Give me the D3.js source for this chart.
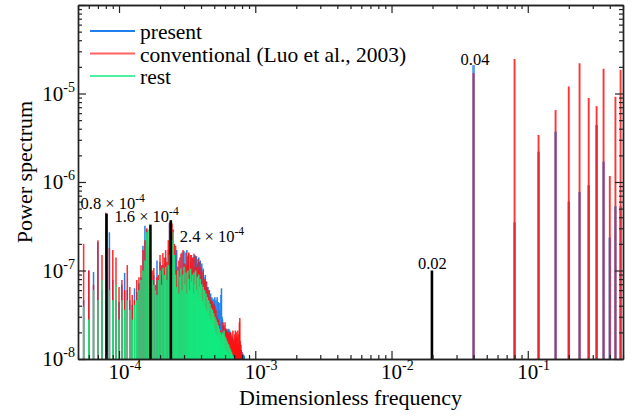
<!DOCTYPE html>
<html><head><meta charset="utf-8">
<script src="https://cdn.jsdelivr.net/npm/d3@7"></script>
<style>
html,body{margin:0;padding:0;background:#fff;}
svg{display:block;}
</style></head><body>
<svg id="chart" width="635" height="419"></svg>
<script>
// ---------------- data ----------------
const xDomain = [5e-5, 0.5];
const yDomain = [1e-8, 1e-4];
const binStart = 5e-5;   // first frequency bin of the low-frequency spectra
const binStep = 5e-6;    // bin spacing

const presentLow = [3.1e-8,4.6e-8,1.0e-7,9.6e-8,2.1e-7,6.0e-8,2.9e-7,2.7e-7,7.8e-8,4.6e-8,
 4.4e-8,6.9e-8,9.4e-8,6.0e-8,4.6e-8,4.1e-8,6.3e-8,5.7e-8,7.2e-8,8.4e-8,
 1.9e-7,3.2e-7,2.9e-7,1.7e-7,1.0e-7,6.9e-8,8.9e-8,6.0e-8,1.3e-7,6.9e-8,
 1.25e-7,8.9e-8,1.15e-7,1.0e-7,1.4e-7,1.07e-7,1.7e-7,3.4e-7,2.2e-7,2.5e-7,
 2.3e-7,1.5e-7,9.0e-8,1.7e-7,1.1e-7,7.5e-8,1.4e-7,9.5e-8,1.6e-7,1.0e-7,
 1.65e-7,1.2e-7,8.0e-8,1.7e-7,1.3e-7,1.55e-7,9.0e-8,1.25e-7,1.5e-7,8.5e-8,
 1.4e-7,1.1e-7,1.5e-7,9.0e-8,1.45e-7,1.2e-7,8.0e-8,1.4e-7,1.05e-7,1.3e-7,
 8.5e-8,1.2e-7,7.0e-8,1.05e-7,8.5e-8,6.0e-8,8.9e-8,5.5e-8,7.5e-8,5.0e-8,
 6.5e-8,4.5e-8,6.0e-8,4.0e-8,5.5e-8,3.8e-8,5.0e-8,3.5e-8,4.8e-8,3.3e-8,
 4.6e-8,5.0e-8,3.0e-8,4.6e-8,2.8e-8,5.0e-8,3.2e-8,4.4e-8,2.6e-8,3.6e-8,
 4.3e-8,2.6e-8,5.3e-8,6.3e-8,3.0e-8,2.8e-8,1.7e-8,2.4e-8,1.5e-8,2.2e-8,
 1.6e-8,2.2e-8,1.5e-8,2.1e-8,2.2e-8,1.5e-8,2.1e-8,1.6e-8,2.2e-8,1.5e-8,
 2.1e-8,1.4e-8,2.0e-8,1.4e-8,1.9e-8,1.3e-8,1.8e-8,1.3e-8,1.7e-8,1.6e-8,
 1.25e-8,1.45e-8,1.6e-8,1.2e-8,1.45e-8,1.15e-8,1.4e-8,1.1e-8,1.34e-8,1.2e-8,
 1.27e-8,1.08e-8,1.27e-8,1.05e-8,1.2e-8,1.12e-8,1.18e-8,1.04e-8,1.27e-8,1.15e-8,
 1.2e-8,1.05e-8,1.15e-8,1.03e-8,1.12e-8,1.02e-8,1.09e-8];

const conventionalLow = [2.1e-8,2.0e-7,1.0e-7,6.9e-8,2.2e-7,1.5e-7,4.5e-7,1.8e-7,1.7e-7,1.4e-7,
 6.5e-8,7.8e-8,6.0e-8,1.15e-7,6.5e-8,5.3e-8,4.6e-8,7.8e-8,8.4e-8,1.15e-7,
 1.7e-7,2.2e-7,3.0e-7,1.9e-7,1.3e-7,1.0e-7,1.07e-7,6.9e-8,8.4e-8,8.9e-8,
 1.5e-7,1.15e-7,1.58e-7,1.4e-7,1.7e-7,1.25e-7,2.2e-7,3.5e-7,2.9e-7,3.4e-7,
 2.9e-7,2.0e-7,1.9e-7,1.0e-7,7.0e-8,1.3e-7,8.0e-8,1.55e-7,1.0e-7,1.7e-7,
 1.2e-7,8.5e-8,1.6e-7,1.15e-7,1.45e-7,1.6e-7,9.0e-8,1.5e-7,7.5e-8,1.4e-7,
 1.0e-7,1.55e-7,8.5e-8,1.45e-7,1.1e-7,7.0e-8,1.35e-7,1.0e-7,1.25e-7,7.5e-8,
 1.1e-7,9.5e-8,6.5e-8,1.0e-7,6.0e-8,8.0e-8,5.5e-8,7.5e-8,5.0e-8,6.5e-8,
 4.5e-8,6.0e-8,3.8e-8,5.0e-8,3.5e-8,4.6e-8,3.2e-8,4.5e-8,3.0e-8,4.2e-8,
 3.4e-8,4.0e-8,2.6e-8,3.6e-8,2.4e-8,3.0e-8,2.2e-8,2.8e-8,1.9e-8,2.5e-8,
 1.6e-8,2.1e-8,1.45e-8,1.9e-8,1.27e-8,1.6e-8,2.6e-8,1.5e-8,2.4e-8,2.1e-8,
 2.6e-8,1.5e-8,2.2e-8,2.0e-8,1.4e-8,2.1e-8,1.9e-8,1.4e-8,2.0e-8,1.9e-8,
 1.3e-8,2.0e-8,1.6e-8,1.8e-8,1.3e-8,1.7e-8,1.45e-8,2.1e-8,1.3e-8,1.5e-8,
 1.6e-8,1.9e-8,1.3e-8,2.1e-8,1.7e-8,2.0e-8,1.3e-8,1.8e-8,1.45e-8,2.1e-8,
 1.3e-8,1.9e-8,1.45e-8,2.6e-8,2.9e-8,1.6e-8,1.27e-8,1.45e-8,1.12e-8,1.2e-8,
 1.06e-8];

const restLow = [1.6e-8,3.9e-8,2.8e-8,6.0e-8,4.6e-8,7.8e-8,1.0e-7,6.0e-8,4.6e-8,6.9e-8,
 2.8e-8,4.6e-8,3.6e-8,4.6e-8,3.6e-8,2.8e-8,4.1e-8,4.6e-8,6.0e-8,7.8e-8,
 1.0e-7,1.3e-7,2.7e-7,2.9e-7,1.15e-7,7.8e-8,6.9e-8,6.0e-8,5.3e-8,7.8e-8,
 1.0e-7,6.9e-8,1.07e-7,8.9e-8,1.1e-7,7.8e-8,1.15e-7,1.5e-7,1.7e-7,2.2e-7,
 2.7e-7,1.5e-7,9.0e-8,6.5e-8,1.0e-7,5.5e-8,8.5e-8,1.05e-7,6.0e-8,9.0e-8,
 1.1e-7,7.0e-8,9.5e-8,5.5e-8,1.0e-7,8.0e-8,6.0e-8,1.05e-7,7.5e-8,9.0e-8,
 5.5e-8,9.5e-8,7.0e-8,1.0e-7,6.0e-8,8.5e-8,5.0e-8,9.0e-8,6.5e-8,8.0e-8,
 5.0e-8,7.0e-8,4.5e-8,6.5e-8,4.0e-8,6.0e-8,3.8e-8,5.5e-8,3.5e-8,5.0e-8,
 3.2e-8,4.6e-8,3.0e-8,4.2e-8,2.8e-8,3.8e-8,2.6e-8,3.6e-8,2.4e-8,3.3e-8,
 2.2e-8,3.0e-8,2.0e-8,2.8e-8,1.9e-8,2.6e-8,1.8e-8,2.4e-8,1.7e-8,2.2e-8,
 1.6e-8,2.0e-8,1.5e-8,1.9e-8,1.4e-8,2.0e-8,1.4e-8,1.9e-8,2.1e-8,1.3e-8,
 1.8e-8,1.25e-8,1.7e-8,1.2e-8,1.6e-8,1.15e-8,1.5e-8,1.1e-8,1.45e-8,1.05e-8,
 1.34e-8,1.05e-8,1.27e-8,1.02e-8,1.2e-8,1.01e-8,1.12e-8,1.01e-8,1.06e-8];

// high-frequency harmonic lines
const harmonicFreq = [0.04,0.08,0.12,0.16,0.20,0.24,0.28,0.32,0.36,0.40,0.44,0.48];
const presentHarm = [2.1e-5,3.5e-7,2.2e-6,3.7e-6,6.0e-7,7.7e-7,9.2e-7,4.4e-6,1.7e-6,2.35e-7,5.3e-7,5.3e-7];
const conventionalHarm = [1.7e-5,2.45e-5,3.4e-6,6.5e-6,1.2e-5,2.2e-5,8.9e-6,7.2e-6,1.9e-5,1.17e-6,9.2e-6,1.85e-5];

// black marker lines and their labels
const markerFreq = [8.1e-5, 1.7e-4, 2.4e-4, 0.0198];
const markerValue = [4.4e-7, 3.3e-7, 3.7e-7, 1.0e-7];
const markerText = ["0.8 × 10", "1.6 × 10", "2.4 × 10", "0.02"];
const markerSup = ["-4", "-4", "-4", ""];
const peakText = "0.04";

const xTickExp = [-4, -3, -2, -1];
const yTickExp = [-8, -7, -6, -5];
const seriesNames = ["present", "conventional (Luo et al., 2003)", "rest"];

// ---------------- layout / style ----------------
const L = 78, T = 5, R = 623, B = 359;
const colors = {present: "#1e80ee", conventional: "#ff1010", rest: "#10eb80"};
const FONT = '"Liberation Serif", "Times New Roman", Tinos, serif';

const svg = d3.select("#chart");
const x = d3.scaleLog().domain(xDomain).range([L, R]);
const y = d3.scaleLog().domain(yDomain).range([B, T]);

svg.append("defs").append("clipPath").attr("id", "plot")
  .append("rect").attr("x", L).attr("y", T).attr("width", R - L).attr("height", B - T);

const plot = svg.append("g").attr("clip-path", "url(#plot)");

function stems(freqs, vals, color, width, opacity) {
  const d = vals.map((v, i) => ({f: freqs[i], v}));
  plot.append("g").selectAll("line").data(d).join("line")
    .attr("x1", p => x(p.f)).attr("x2", p => x(p.f))
    .attr("y1", y(yDomain[0])).attr("y2", p => y(p.v))
    .attr("stroke", color).attr("stroke-width", width)
    .attr("stroke-opacity", opacity);
}
const binF = arr => arr.map((_, i) => binStart + i * binStep);

stems(binF(presentLow), presentLow, colors.present, 1.5, 1);
stems(harmonicFreq, presentHarm, colors.present, 2.6, 0.8);
stems(binF(conventionalLow), conventionalLow, colors.conventional, 1.5, 0.88);
stems(harmonicFreq, conventionalHarm, colors.conventional, 1.9, 0.85);
stems(binF(restLow), restLow, colors.rest, 1.5, 0.92);
stems(markerFreq, markerValue, "#000", 2.6, 1);

// ---------------- axes ----------------
const xAll = x.ticks();
const xMajor = xTickExp.map(e => Math.pow(10, e));
const xMinor = xAll.filter(t => !xMajor.some(m => Math.abs(m - t) / m < 1e-6));
const yAll = y.ticks();
const yMajorAll = [1e-8, 1e-7, 1e-6, 1e-5, 1e-4];
const yMinor = yAll.filter(t => !yMajorAll.some(m => Math.abs(m - t) / m < 1e-6));

function styleAxis(g) {
  g.selectAll("path.domain").attr("stroke", "#222").attr("stroke-width", 1.4);
  g.selectAll(".tick line").attr("stroke", "#222").attr("stroke-width", 1.2);
  g.selectAll(".tick text").remove();
}
function axisPair(gen, pos, minor, major) {
  svg.append("g").attr("transform", pos)
    .call(gen().tickValues(minor).tickSize(-4).tickSizeOuter(0).tickFormat(""))
    .call(styleAxis);
  svg.append("g").attr("transform", pos)
    .call(gen().tickValues(major).tickSize(-8).tickSizeOuter(0).tickFormat(""))
    .call(styleAxis);
}
axisPair(() => d3.axisBottom(x), `translate(0,${B})`, xMinor, xMajor);
axisPair(() => d3.axisTop(x), `translate(0,${T})`, xMinor, xMajor);
axisPair(() => d3.axisLeft(y), `translate(${L},0)`, yMinor, yMajorAll);
axisPair(() => d3.axisRight(y), `translate(${R},0)`, yMinor, yMajorAll);

function txt(sel) { return sel.attr("font-family", FONT).attr("fill", "#000"); }

// tick labels
xTickExp.forEach(e => {
  const t = txt(svg.append("text")).attr("x", x(Math.pow(10, e)) - 10.5).attr("y", B + 20)
    .attr("font-size", 21);
  t.append("tspan").text("10");
  t.append("tspan").attr("dy", -9).attr("font-size", 14).text(String(e));
});
yTickExp.forEach(e => {
  const t = txt(svg.append("text")).attr("x", L - 3).attr("y", y(Math.pow(10, e)) + 7)
    .attr("font-size", 21).attr("text-anchor", "end");
  t.append("tspan").text("10");
  t.append("tspan").attr("dy", -9).attr("font-size", 14).text(String(e));
});

// axis titles
txt(svg.append("text")).attr("x", (L + R) / 2).attr("y", 405).attr("text-anchor", "middle")
  .attr("font-size", 22).text("Dimensionless frequency");
txt(svg.append("text")).attr("transform", `translate(32,${(T + B) / 2 - 10}) rotate(-90)`)
  .attr("text-anchor", "middle").attr("font-size", 22).text("Power spectrum");

// marker labels
const markerLabelOffset = [[-26, -5], [-36, -3], [9, 22], [-14, -2]];
markerText.forEach((s, i) => {
  const t = txt(svg.append("text"))
    .attr("x", x(markerFreq[i]) + markerLabelOffset[i][0])
    .attr("y", y(markerValue[i]) + markerLabelOffset[i][1])
    .attr("font-size", 16.5);
  t.append("tspan").text(s);
  if (markerSup[i]) t.append("tspan").attr("dy", -7).attr("font-size", 11.5).text(markerSup[i]);
});
txt(svg.append("text")).attr("x", x(harmonicFreq[0]) - 13).attr("y", y(presentHarm[0]))
  .attr("font-size", 16.5).text(peakText);

// legend
const legColors = [colors.present, colors.conventional, colors.rest];
const legOpacity = [1, 0.65, 0.75];
seriesNames.forEach((n, i) => {
  const yy = 31 + i * 22.5;
  svg.append("line").attr("x1", 90).attr("x2", 135).attr("y1", yy).attr("y2", yy)
    .attr("stroke", legColors[i]).attr("stroke-width", 2).attr("stroke-opacity", legOpacity[i]);
  txt(svg.append("text")).attr("x", 140).attr("y", yy + 8).attr("font-size", 21.5).text(n);
});
</script>
</body></html>
